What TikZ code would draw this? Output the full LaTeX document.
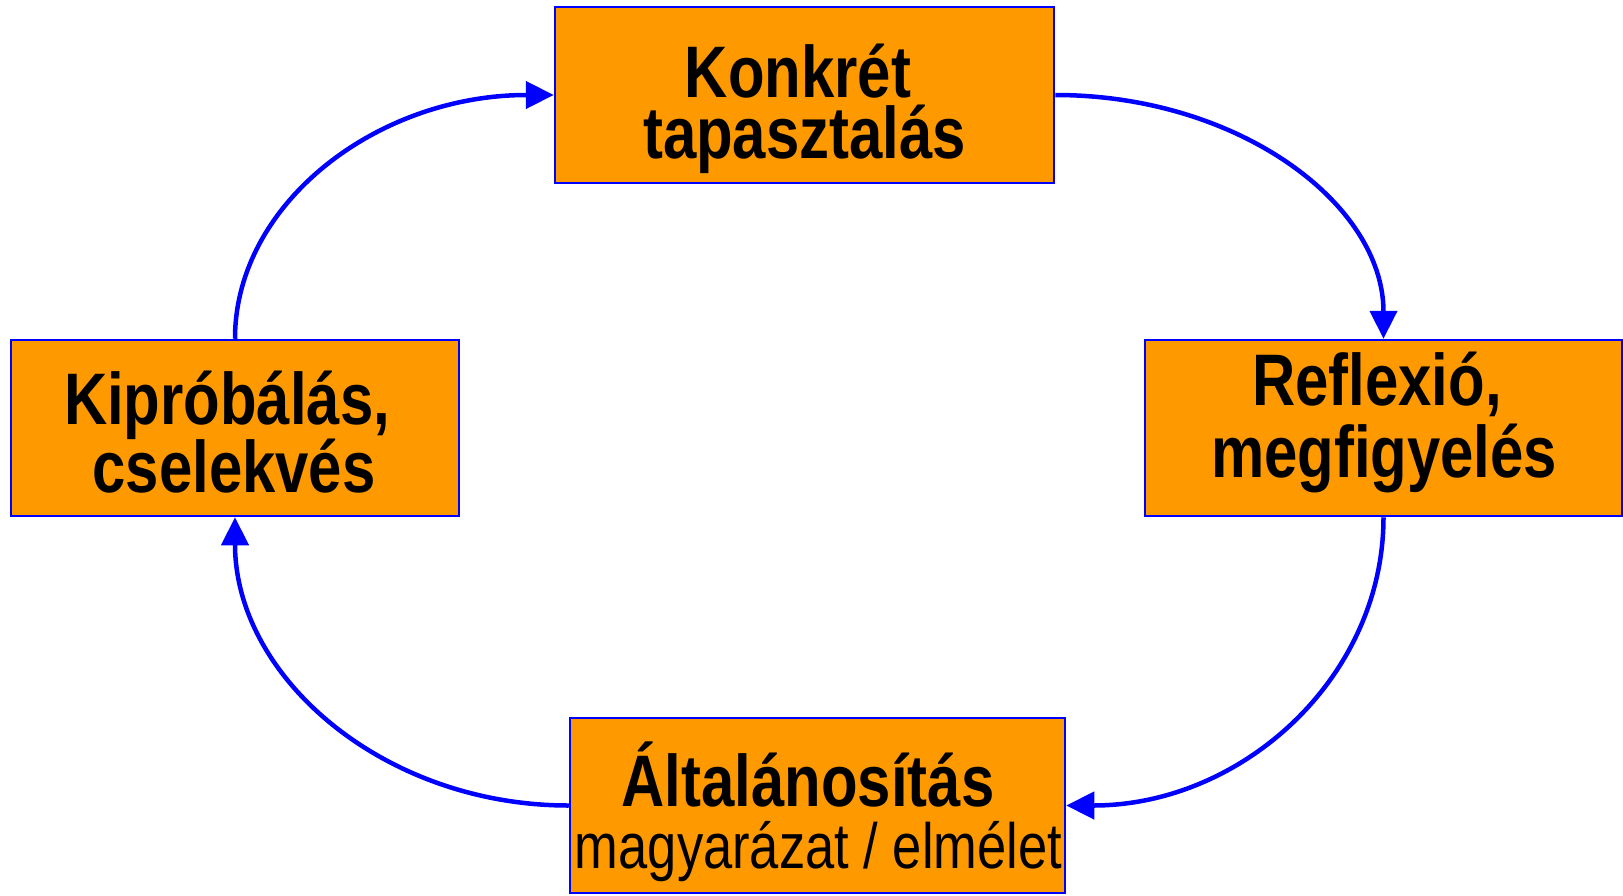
\documentclass[tikz,border=0pt]{standalone}
\usepackage{fontspec}
\setmainfont{Liberation Sans}[FakeStretch=0.82]
\usetikzlibrary{arrows.meta}
\definecolor{boxorange}{RGB}{255,153,0}
\definecolor{lineblue}{RGB}{0,0,255}
\tikzset{
  stagebox/.style={draw=lineblue, line width=2.5pt, fill=boxorange, inner sep=0pt},
  boldline/.style={anchor=base, inner sep=0pt, text=black, font=\bfseries\fontsize{73}{73}\selectfont},
  plainline/.style={anchor=base, inner sep=0pt, text=black, font=\fontsize{64}{64}\selectfont},
  cycarrow/.style={draw=lineblue, line width=4.5pt, -{Triangle[length=28pt,width=27pt]}}
}
\begin{document}
\begin{tikzpicture}[x=1pt,y=-1pt]
\useasboundingbox (0,0) rectangle (1623,895);
% boxes
\node[stagebox, minimum width=499pt, minimum height=176pt] (top) at (804.5,95) {};
\node[stagebox, minimum width=477pt, minimum height=176pt] (right) at (1383.5,428) {};
\node[stagebox, minimum width=448pt, minimum height=176pt] (left) at (235,428) {};
\node[stagebox, minimum width=495pt, minimum height=175pt] (bottom) at (817.5,805.5) {};
% texts
\node[boldline] (topA) at (798,97) {Konkrét};
\node[boldline] (topB) at (804.5,158) {tapasztalás};
\node[boldline] (rightA) at (1377,405) {Reflexió,};
\node[boldline] (rightB) at (1384,477) {megfigyelés};
\node[boldline] (leftA) at (227,424) {Kipróbálás,};
\node[boldline] (leftB) at (234,492) {cselekvés};
\node[boldline] (bottomA) at (808,806) {Általánosítás};
\node[plainline] (bottomB) at (818.5,868) {magyarázat / elmélet};
% connectors
\draw[cycarrow] (top.east) .. controls +(183,0) and +(0,-135) .. (right.north);
\draw[cycarrow] (right.south) .. controls +(0,160) and +(176,0) .. (bottom.east);
\draw[cycarrow] (bottom.west) .. controls +(-185,0) and +(0,160) .. (left.south);
\draw[cycarrow] (left.north) .. controls +(0,-135) and +(-177,0) .. (top.west);
\end{tikzpicture}
\end{document}
